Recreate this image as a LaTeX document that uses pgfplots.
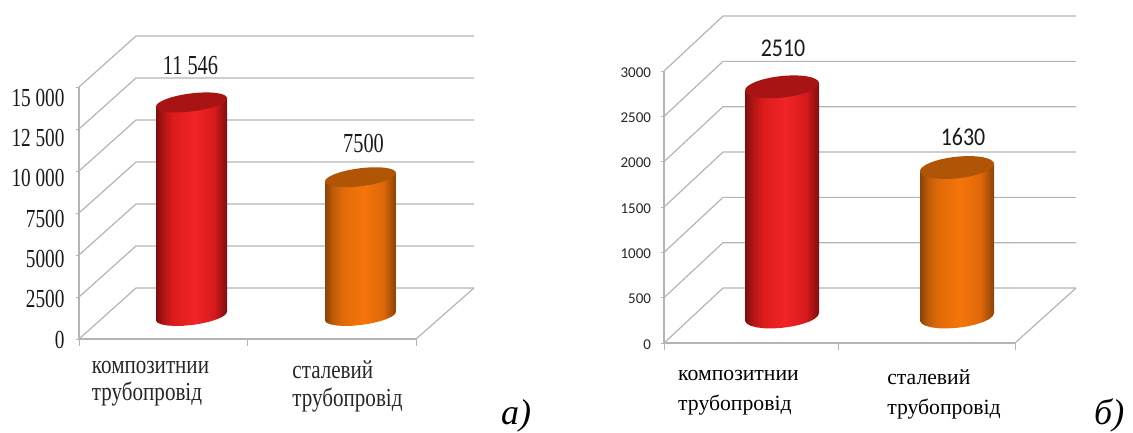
\documentclass[border=0pt]{standalone}
\usepackage{fontspec}
\usepackage{pgfplots}
\pgfplotsset{compat=1.18}
\setmainfont{Liberation Serif}
\newfontfamily\nserif[FakeStretch=0.74]{Liberation Serif}
\newfontfamily\kserif[FakeStretch=0.81]{Liberation Serif}
\newfontfamily\cserif{Liberation Serif}
\newfontfamily\csans{Carlito}
\newfontfamily\csansn[FakeStretch=0.86]{Carlito}
\definecolor{gridc}{HTML}{B4B4B4}
\definecolor{toprd}{HTML}{A81414}
\definecolor{topor}{HTML}{B05505}
\definecolor{cr0}{HTML}{7E0E0E}\definecolor{cr1}{HTML}{B01515}\definecolor{cr2}{HTML}{DC1C1C}\definecolor{cr3}{HTML}{F02426}\definecolor{cr4}{HTML}{D81A1C}\definecolor{cr5}{HTML}{7E0E0E}
\definecolor{co0}{HTML}{8A4206}\definecolor{co1}{HTML}{BC5A08}\definecolor{co2}{HTML}{E06A08}\definecolor{co3}{HTML}{F5750C}\definecolor{co4}{HTML}{DE6808}\definecolor{co5}{HTML}{8A4206}
\pgfdeclarehorizontalshading{cylr}{100bp}{color(0bp)=(cr0);color(25bp)=(cr0);color(30bp)=(cr1);color(37bp)=(cr2);color(52bp)=(cr3);color(66bp)=(cr4);color(75bp)=(cr5);color(100bp)=(cr5)}
\pgfdeclarehorizontalshading{cylo}{100bp}{color(0bp)=(co0);color(25bp)=(co0);color(30bp)=(co1);color(37bp)=(co2);color(52bp)=(co3);color(66bp)=(co4);color(75bp)=(co5);color(100bp)=(co5)}
% tilted ellipse marks for the cylinder tops
\pgfdeclareplotmark{capLr}{\pgfsetfillcolor{toprd}\pgfpathellipse{\pgfpointorigin}{\pgfpoint{35.5pt}{4.5pt}}{\pgfpoint{-1.1pt}{8.9pt}}\pgfusepathqfill}
\pgfdeclareplotmark{capLo}{\pgfsetfillcolor{topor}\pgfpathellipse{\pgfpointorigin}{\pgfpoint{35.5pt}{4.5pt}}{\pgfpoint{-1.1pt}{8.9pt}}\pgfusepathqfill}
\pgfdeclareplotmark{capRr}{\pgfsetfillcolor{toprd}\pgfpathellipse{\pgfpointorigin}{\pgfpoint{37pt}{4pt}}{\pgfpoint{-1.2pt}{10.7pt}}\pgfusepathqfill}
\pgfdeclareplotmark{capRo}{\pgfsetfillcolor{topor}\pgfpathellipse{\pgfpointorigin}{\pgfpoint{37pt}{4pt}}{\pgfpoint{-1.2pt}{10.7pt}}\pgfusepathqfill}
\pgfplotsset{
  wall/.style={gridc,line width=1.2pt,mark=none,forget plot},
  frame/.style={
    scale only axis,clip=false,anchor=south west,scaled y ticks=false,
    axis lines*=left,axis line style={gridc,line width=1.2pt},
    tick style={gridc,line width=1pt},tick align=outside,
    major x tick style={draw=none},
    major tick length=3.5pt,minor tick length=7pt},
  bars/.style={scale only axis,anchor=south west,hide axis,clip=false,scaled y ticks=false},
  body/.style={draw=none,mark=none,forget plot},
  lab/.style={only marks,mark=none,forget plot,point meta=explicit symbolic,
    nodes near coords,every node near coord/.append style={anchor=center,text=black!90}},
}
\begin{document}
\begin{tikzpicture}[x=1pt,y=1pt]
\useasboundingbox (0,0) rectangle (1133,432);
% ---------- panel a: walls
\begin{axis}[frame,at={(79pt,93pt)},width=337pt,height=252pt,
  xmin=79,xmax=416,ymin=0,ymax=15000,
  xtick={150.5,347.5},xticklabels={композитнии\\трубопровід,сталевий\\трубопровід},
  minor xtick={79,247,416},
  xticklabel style={font=\kserif\fontsize{26}{27.5}\selectfont,align=left,anchor=north,yshift=-15pt,text=black!85},
  ytick={0,2500,5000,7500,10000,12500,15000},yticklabels={}]
\addplot[wall] coordinates {(79,0)(136,3036)(474,3036)};
\addplot[wall] coordinates {(79,2500)(136,5536)(474,5536)};
\addplot[wall] coordinates {(79,5000)(136,8036)(474,8036)};
\addplot[wall] coordinates {(79,7500)(136,10536)(474,10536)};
\addplot[wall] coordinates {(79,10000)(136,13036)(474,13036)};
\addplot[wall] coordinates {(79,12500)(136,15536)(474,15536)};
\addplot[wall] coordinates {(79,15000)(136,18036)(474,18036)};
\addplot[wall] coordinates {(416,0)(474,3036)};
\end{axis}
% panel a: value labels
\begin{axis}[scale only axis,anchor=south west,at={(79pt,92.5pt)},width=337pt,height=242pt,
  xmin=79,xmax=416,ymin=0,ymax=15000,scaled y ticks=false,axis line style={draw=none},xtick=\empty,
  axis y line*=left,axis x line=none,
  ytick={0,2500,5000,7500,10000,12500,15000},
  yticklabels={0,2500,5000,7500,10 000,12 500,15 000},
  major tick length=0pt,
  yticklabel style={font=\nserif\fontsize{26}{27}\selectfont,anchor=east,xshift=-11pt,text=black!90}]
\addplot[draw=none,forget plot] coordinates {(79,0)};
\end{axis}
% panel a: bars
\begin{axis}[bars,at={(79pt,116pt)},width=337pt,height=277.5pt,
  xmin=79,xmax=416,ymin=0,ymax=15000]
\addplot[body,shading=cylr] coordinates {(156,11303)(227,11789)(227,243)(226.1,111)(222.8,-30)(217.4,-168)(210.2,-295)(201.75,-402)(192.6,-481)(183.37,-528)(174.7,-538)(167.2,-512)(161.3,-451)(157.5,-359)(156,-243)} --cycle;
\addplot[only marks,mark=capLr,forget plot] coordinates {(191.5,11546)};
\addplot[body,shading=cylo] coordinates {(325,7257)(396,7743)(396,243)(395.1,111)(391.8,-30)(386.4,-168)(379.2,-295)(370.75,-402)(361.6,-481)(352.37,-528)(343.7,-538)(336.2,-512)(330.3,-451)(326.5,-359)(325,-243)} --cycle;
\addplot[only marks,mark=capLo,forget plot] coordinates {(360.5,7500)};
\addplot[lab,every node near coord/.append style={yshift=37pt,xshift=-1pt,font=\nserif\fontsize{27.5}{29}\selectfont}] coordinates {(191.5,11546)[11 546]};
\addplot[lab,every node near coord/.append style={yshift=34pt,xshift=3pt,font=\nserif\fontsize{27.5}{29}\selectfont}] coordinates {(360.5,7500)[7500]};
\end{axis}
% ---------- panel b: walls
\begin{axis}[frame,at={(664pt,89pt)},width=351pt,height=272pt,
  xmin=664,xmax=1015,ymin=0,ymax=3000,
  xtick={738.5,944},xticklabels={композитнии\\трубопровід,сталевий\\трубопровід},
  minor xtick={664,838,1015},
  xticklabel style={font=\cserif\fontsize{21.7}{30}\selectfont,align=left,anchor=north,yshift=-20pt,text=black},
  ytick={0,500,1000,1500,2000,2500,3000},
  yticklabel style={font=\csans\fontsize{15}{17}\selectfont,anchor=east,xshift=-6pt,yshift=-1.5pt,text=black!85},
  yticklabels={0,500,1000,1500,2000,2500,3000}]
\addplot[wall] coordinates {(664,0)(723,606)(1076,606)};
\addplot[wall] coordinates {(664,500)(723,1106)(1076,1106)};
\addplot[wall] coordinates {(664,1000)(723,1606)(1076,1606)};
\addplot[wall] coordinates {(664,1500)(723,2106)(1076,2106)};
\addplot[wall] coordinates {(664,2000)(723,2606)(1076,2606)};
\addplot[wall] coordinates {(664,2500)(723,3106)(1076,3106)};
\addplot[wall] coordinates {(664,3000)(723,3606)(1076,3606)};
\addplot[wall] coordinates {(1015,0)(1076,606)};
\end{axis}
% panel b: bars
\begin{axis}[bars,at={(664pt,115pt)},width=351pt,height=275.1pt,
  xmin=664,xmax=1015,ymin=0,ymax=3000]
\addplot[body,shading=cylr] coordinates {(745,2466.4)(819,2553.6)(819,43.6)(817.9,11.9)(814.5,-20.6)(808.9,-51.7)(801.4,-79.3)(792.7,-101.4)(783.2,-116.7)(773.6,-124.1)(764.6,-122.9)(756.8,-113.4)(750.7,-96.1)(746.8,-72.3)(745,-43.6)} --cycle;
\addplot[only marks,mark=capRr,forget plot] coordinates {(782,2510)};
\addplot[body,shading=cylo] coordinates {(920,1586.4)(994,1673.6)(994,43.6)(992.9,11.9)(989.5,-20.6)(983.9,-51.7)(976.4,-79.3)(967.7,-101.4)(958.2,-116.7)(948.6,-124.1)(939.6,-122.9)(931.8,-113.4)(925.7,-96.1)(921.8,-72.3)(920,-43.6)} --cycle;
\addplot[only marks,mark=capRo,forget plot] coordinates {(957,1630)};
\addplot[lab,every node near coord/.append style={yshift=39pt,xshift=1pt,font=\csansn\fontsize{25.5}{27}\selectfont}] coordinates {(782,2510)[2510]};
\addplot[lab,every node near coord/.append style={yshift=31pt,xshift=6pt,font=\csansn\fontsize{25.5}{27}\selectfont}] coordinates {(957,1630)[1630]};
\end{axis}
% panel letters
\node[anchor=base west,font=\cserif\itshape\fontsize{36}{40}\selectfont,inner sep=0pt] at (501,8) {а)};
\node[anchor=base west,font=\cserif\itshape\fontsize{36}{40}\selectfont,inner sep=0pt] at (1094,8) {б)};
\end{tikzpicture}
\end{document}
